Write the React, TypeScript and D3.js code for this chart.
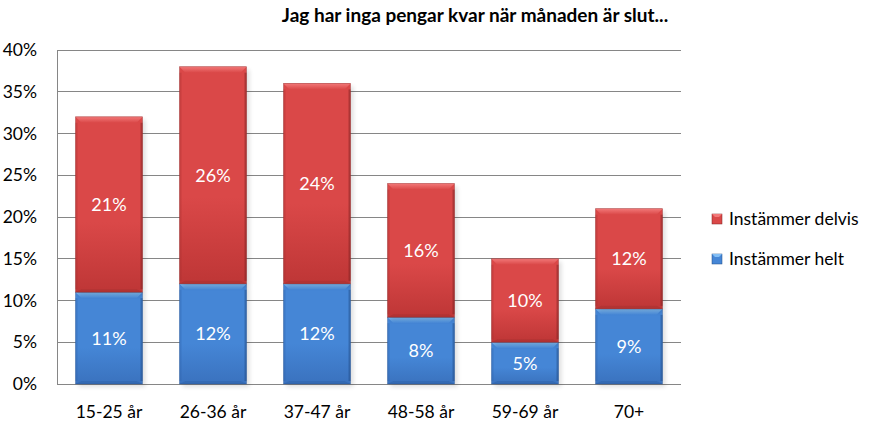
import React from "react";
import * as d3 from "d3";

const categories = ["15-25 år", "26-36 år", "37-47 år", "48-58 år", "59-69 år", "70+"];
const helt = [11, 12, 12, 8, 5, 9];
const delvis = [21, 26, 24, 16, 10, 12];
const yTicks = [0, 5, 10, 15, 20, 25, 30, 35, 40];
const seriesNames = ["Instämmer delvis", "Instämmer helt"];
const title = "Jag har inga pengar kvar när månaden är slut...";

const W = 878, H = 423;
const left = 57, right = 681, top = 50, bottom = 384;
const font = "Lato, 'Open Sans', sans-serif";

const colors = {
  red: { top: "#DA4848", bottom: "#BE3636", light: "#F27878", dark: "#A63030", darker: "#7E2222" },
  blue: { top: "#4586D6", bottom: "#3A72BE", light: "#82BEF5", dark: "#2E62A8", darker: "#224C85" },
};

function Bar({ x, y, w, h, c, id }: any) {
  const b = Math.min(6, h / 3);
  const s = 2;
  return (
    <g>
      <rect x={x + 3} y={y + 3} width={w} height={h} fill="#000" opacity={0.12} filter={`url(#blur)`} />
      <rect x={x} y={y} width={w} height={h} fill={`url(#body-${id})`} />
      <polygon points={`${x},${y} ${x + w},${y} ${x + w - b},${y + b} ${x + b},${y + b}`} fill={`url(#top-${id})`} />
      <polygon points={`${x},${y + h} ${x + w},${y + h} ${x + w - b},${y + h - b / 2} ${x + b},${y + h - b / 2}`} fill={c.dark} opacity={0.5} />
      <rect x={x} y={y + b} width={s} height={Math.max(0, h - 1.5 * b)} fill={c.dark} opacity={0.35} />
      <rect x={x + w - s} y={y + b} width={s} height={Math.max(0, h - 1.5 * b)} fill={c.darker} opacity={0.5} />
      <rect x={x} y={y} width={w} height={h} fill="none" stroke={c.darker} strokeOpacity={0.45} strokeWidth={0.7} />
    </g>
  );
}

export default function App() {
  const x = d3.scaleBand().domain(categories).range([left, right]).paddingInner(0.355).paddingOuter(0.1775);
  const y = d3.scaleLinear().domain([0, 40]).range([bottom, top]);
  const bw = x.bandwidth();

  const gradDefs = (["red", "blue"] as const).map((k) => {
    const c = colors[k];
    return (
      <React.Fragment key={k}>
        <linearGradient id={`body-${k}`} x1="0" x2="0" y1="0" y2="1">
          <stop offset="0" stopColor={c.top} />
          <stop offset="0.6" stopColor={c.top} />
          <stop offset="1" stopColor={c.bottom} />
        </linearGradient>
        <linearGradient id={`top-${k}`} x1="0" x2="0" y1="0" y2="1">
          <stop offset="0" stopColor={c.light} />
          <stop offset="1" stopColor={c.top} />
        </linearGradient>
      </React.Fragment>
    );
  });

  return (
    <svg width={W} height={H} style={{ position: "absolute", left: 0, top: 0, background: "#fff" }}>
      <defs>
        {gradDefs}
        <filter id="blur" x="-20%" y="-20%" width="140%" height="140%">
          <feGaussianBlur stdDeviation="2" />
        </filter>
      </defs>
      <text x={475} y={22} textAnchor="middle" fontFamily={font} fontWeight="bold" fontSize={19} fill="#000">
        {title}
      </text>
      {yTicks.map((t) => (
        <g key={t}>
          <line x1={left} x2={right} y1={y(t)} y2={y(t)} stroke="#868686" strokeWidth={1} shapeRendering="crispEdges" />
          <text x={37} y={y(t) + 6} textAnchor="end" fontFamily={font} fontSize={17.5} fill="#000">
            {t}%
          </text>
        </g>
      ))}
      <line x1={left} x2={left} y1={top} y2={bottom} stroke="#868686" shapeRendering="crispEdges" />
      {categories.map((cat, i) => {
        const x0 = x(cat)!;
        const yH = y(helt[i]);
        const yD = y(helt[i] + delvis[i]);
        return (
          <g key={cat}>
            <Bar x={x0} y={yH} w={bw} h={bottom - yH} c={colors.blue} id="blue" />
            <Bar x={x0} y={yD} w={bw} h={yH - yD} c={colors.red} id="red" />
            <text x={x0 + bw / 2} y={(yH + bottom) / 2 + 6.5} textAnchor="middle" fontFamily={font} fontSize={18} fill="#fff">
              {helt[i]}%
            </text>
            <text x={x0 + bw / 2} y={(yD + yH) / 2 + 6.5} textAnchor="middle" fontFamily={font} fontSize={18} fill="#fff">
              {delvis[i]}%
            </text>
            <text x={x0 + bw / 2} y={418} textAnchor="middle" fontFamily={font} fontSize={17.5} fill="#000">
              {cat}
            </text>
          </g>
        );
      })}
      {seriesNames.map((s, i) => {
        const c = i === 0 ? colors.red : colors.blue;
        const ly = 219 + i * 40;
        return (
          <g key={s}>
            <rect x={712} y={ly - 5} width={10} height={10} fill={c.top} stroke={c.darker} strokeWidth={0.5} />
            <polygon points={`712,${ly - 5} 722,${ly - 5} 719,${ly - 2} 715,${ly - 2}`} fill={c.light} />
            <text x={729} y={ly + 6} fontFamily={font} fontSize={17.5} fill="#000">
              {s}
            </text>
          </g>
        );
      })}
    </svg>
  );
}
